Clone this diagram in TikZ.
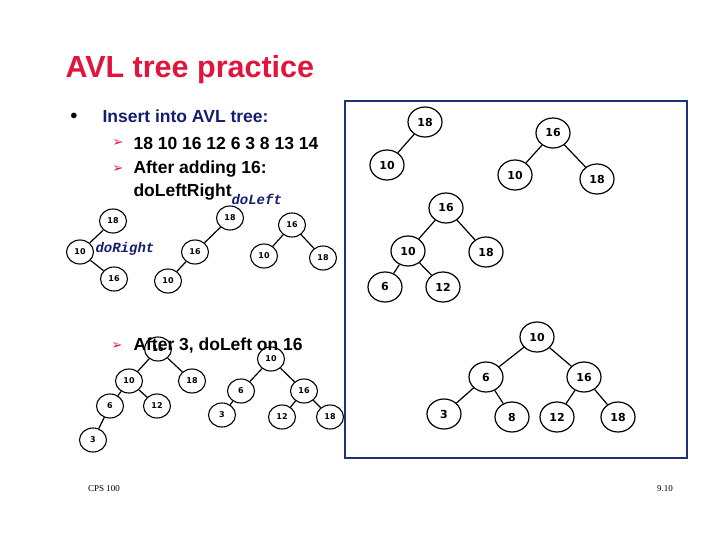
\documentclass[tikz,border=0pt]{standalone}
\usepackage{fontspec}
\usetikzlibrary{shapes.geometric}
\setmainfont{Liberation Sans}
\newfontfamily\numf{DejaVu Sans}
\newfontfamily\monof{Liberation Mono}
\newfontfamily\serf{Liberation Serif}
\newfontfamily\djv{DejaVu Sans}
\definecolor{titlered}{RGB}{225,20,60}
\definecolor{navy}{RGB}{20,30,110}
\definecolor{framebl}{RGB}{30,50,120}
\begin{document}
\begin{tikzpicture}[x=1pt,y=-1pt,
  big/.style={draw,line width=1.2pt,ellipse,minimum width=34pt,minimum height=30pt,inner sep=0pt,fill=white,font=\numf\bfseries\fontsize{11}{11}\selectfont},
  sm/.style={draw,line width=1.1pt,ellipse,minimum width=27pt,minimum height=24pt,inner sep=0pt,fill=white,font=\numf\bfseries\fontsize{8}{8}\selectfont},
  ed/.style={line width=1.2pt},
  sub/.style={anchor=west,font=\bfseries\fontsize{17.5}{17.5}\selectfont},
  arr/.style={text=titlered,font=\djv\fontsize{13}{13}\selectfont}]
\useasboundingbox (0,0) rectangle (720,540);
\draw[framebl,line width=1.5pt] (345,101) rectangle (687,458);
% right trees
\node[big] (a1) at (425,122) {18};
\node[big] (a2) at (387,165) {10};
\draw[ed] (a1)--(a2);
\node[big] (b1) at (553,133) {16};
\node[big] (b2) at (515,175) {10};
\node[big] (b3) at (597,179) {18};
\draw[ed] (b1)--(b2) (b1)--(b3);
\node[big] (c1) at (446,208) {16};
\node[big] (c2) at (408,251) {10};
\node[big] (c3) at (486,252) {18};
\node[big] (c4) at (385,287) {6};
\node[big] (c5) at (443,287) {12};
\draw[ed] (c1)--(c2) (c1)--(c3) (c2)--(c4) (c2)--(c5);
\node[big] (d1) at (537,337) {10};
\node[big] (d2) at (486,377) {6};
\node[big] (d3) at (584,377) {16};
\node[big] (d4) at (444,414) {3};
\node[big] (d5) at (512,417) {8};
\node[big] (d6) at (557,417) {12};
\node[big] (d7) at (618,417) {18};
\draw[ed] (d1)--(d2) (d1)--(d3) (d2)--(d4) (d2)--(d5) (d3)--(d6) (d3)--(d7);
% left small trees
\node[sm] (e1) at (113,221) {18};
\node[sm] (e2) at (80,252) {10};
\node[sm] (e3) at (114,279) {16};
\draw[ed] (e1)--(e2) (e2)--(e3);
\node[anchor=west,text=navy,font=\monof\bfseries\itshape\fontsize{14}{14}\selectfont] (dr) at (92,249) {doRight};
\node[sm] (f1) at (230,218) {18};
\node[sm] (f2) at (195,252) {16};
\node[sm] (f3) at (168,281) {10};
\draw[ed] (f1)--(f2) (f2)--(f3);
\node[sm] (g1) at (292,225) {16};
\node[sm] (g2) at (264,256) {10};
\node[sm] (g3) at (323,258) {18};
\draw[ed] (g1)--(g2) (g1)--(g3);
\node[sm] (h1) at (158,349) {16};
\node[sm] (h2) at (129,381) {10};
\node[sm] (h3) at (192,381) {18};
\node[sm] (h4) at (110,406) {6};
\node[sm] (h5) at (157,406) {12};
\node[sm] (h6) at (93,440) {3};
\draw[ed] (h1)--(h2) (h1)--(h3) (h2)--(h4) (h2)--(h5) (h4)--(h6);
\node[sm] (i1) at (271,359) {10};
\node[sm] (i2) at (241,391) {6};
\node[sm] (i3) at (304,391) {16};
\node[sm] (i4) at (222,415) {3};
\node[sm] (i5) at (282,417) {12};
\node[sm] (i6) at (330,417) {18};
\draw[ed] (i1)--(i2) (i1)--(i3) (i2)--(i4) (i3)--(i5) (i3)--(i6);
% text
\node[anchor=west,text=titlered,font=\bfseries\fontsize{30.5}{30.5}\selectfont] (title) at (62,70) {AVL tree practice};
\node[font=\fontsize{14}{14}\selectfont] (bul) at (74,116) {$\bullet$};
\node[anchor=west,text=navy,font=\bfseries\fontsize{17.5}{17.5}\selectfont] (ins) at (99,116) {Insert into AVL tree:};
\node[arr] (ar1) at (118,143) {➢};
\node[sub] (s1) at (130,143) {18 10 16 12 6 3 8 13 14};
\node[arr] (ar2) at (118,169) {➢};
\node[sub] (s2) at (130,169) {After adding 16:};
\node[sub] (s3) at (130,192) {doLeftRight};
\node[anchor=west,text=navy,font=\monof\bfseries\itshape\fontsize{14}{14}\selectfont] (dl) at (228,199) {doLeft};
\node[arr] (ar3) at (117,346) {➢};
\node[sub] (s4) at (130,346) {After 3, doLeft on 16};
\node[font=\serf\fontsize{9}{9}\selectfont] (cps) at (104,489) {CPS 100};
\node[font=\serf\fontsize{9}{9}\selectfont] (pg) at (665,489) {9.10};
\end{tikzpicture}
\end{document}
